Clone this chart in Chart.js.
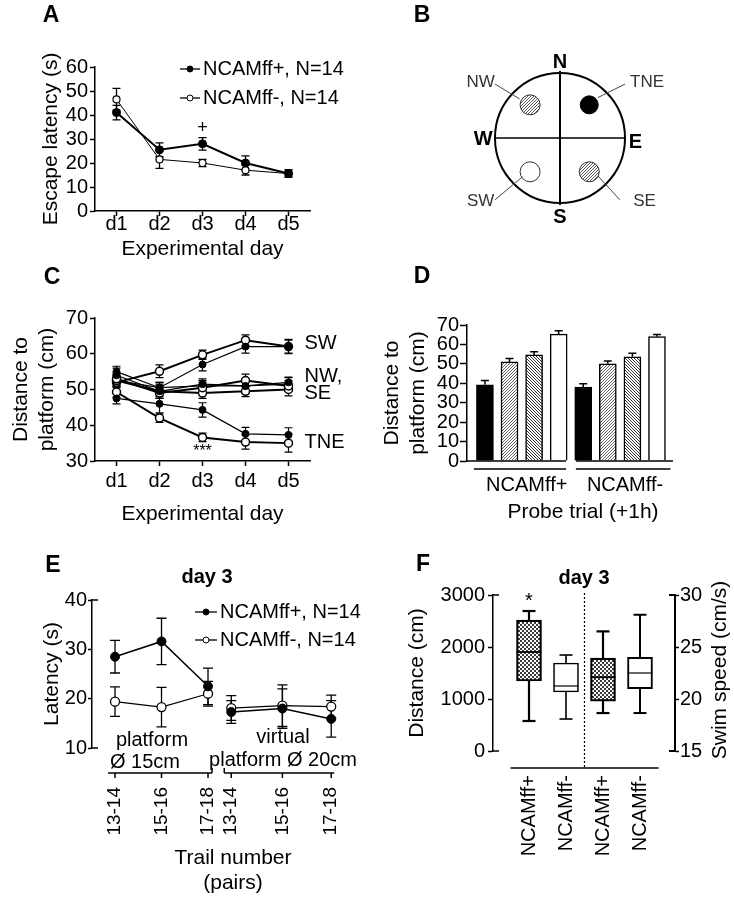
<!DOCTYPE html>
<html><head><meta charset="utf-8">
<script src="https://cdn.jsdelivr.net/npm/chart.js@4.4.1/dist/chart.umd.min.js"></script>
<style>
html,body{margin:0;padding:0;background:#fff;}
#wrap{position:relative;width:734px;height:899px;background:#fff;}
#wrap canvas{position:absolute;left:0;top:0;}
</style></head><body>
<div id="wrap">
<canvas id="cA" width="734" height="899"></canvas>
<canvas id="cB" width="734" height="899"></canvas>
<canvas id="cC" width="734" height="899"></canvas>
<canvas id="cD" width="734" height="899"></canvas>
<canvas id="cE" width="734" height="899"></canvas>
<canvas id="cF" width="734" height="899"></canvas>
</div>
<script>
// ================= DATA =================
// Panel A
const DAYS = ['d1','d2','d3','d4','d5'];
const SERIES_NAMES = ['NCAMff+, N=14','NCAMff-, N=14'];
const A_PLUS = [41.0, 25.5, 28.0, 20.0, 15.6];
const A_PLUS_ERR = [3.0, 2.9, 2.6, 3.0, 1.5];
const A_MINUS = [46.5, 21.5, 20.0, 17.0, 15.6];
const A_MINUS_ERR = [4.6, 3.7, 1.5, 2.0, 1.5];
// Panel B
const B_NAMES = ['NW','TNE','SW','SE'];
const B_X = [-0.46, 0.45, -0.46, 0.45];
const B_Y = [0.51, 0.51, -0.52, -0.52];
// Panel C
const C_TNE_PLUS  = [47.5, 46.0, 44.3, 37.6, 37.3];
const C_TNE_MINUS = [49.3, 42.0, 36.6, 35.3, 35.0];
const C_SW_PLUS   = [52.5, 50.5, 57.0, 62.0, 62.0];
const C_SW_MINUS  = [52.0, 55.1, 59.7, 63.8, 62.0];
const C_NW_PLUS   = [54.0, 49.5, 51.5, 51.0, 52.0];
const C_NW_MINUS  = [53.0, 49.0, 50.5, 52.5, 51.0];
const C_SE_PLUS   = [55.0, 50.5, 51.0, 51.0, 51.5];
const C_SE_MINUS  = [52.5, 49.5, 49.0, 49.5, 50.0];
const C_TNE_PLUS_ERR  = [1.5, 2.5, 2.0, 1.8, 2.0];
const C_TNE_MINUS_ERR = [1.5, 1.2, 1.2, 2.0, 2.5];
const C_SW_PLUS_ERR   = [1.5, 1.5, 1.8, 1.8, 2.0];
const C_SW_MINUS_ERR  = [1.5, 1.8, 1.3, 1.5, 1.8];
const C_NW_PLUS_ERR   = [2.0, 2.0, 1.5, 1.5, 1.5];
const C_NW_MINUS_ERR  = [1.5, 1.5, 1.5, 1.8, 1.5];
const C_SE_PLUS_ERR   = [1.5, 1.5, 1.5, 2.0, 1.8];
const C_SE_MINUS_ERR  = [1.5, 1.5, 1.5, 1.5, 1.8];
const C_LABELS = ['SW','NW,','SE','TNE'];
const C_LABEL_VAL = [63.0, 53.6, 48.9, 35.3];
// Panel D
const D_GROUPS = ['NCAMff+','NCAMff-'];
const D_QUAD = ['TNE','NW','SE','SW','TNE','NW','SE','SW'];
const D_VALUES = [39.2, 51.0, 54.6, 65.3, 38.1, 50.0, 53.6, 64.0];
const D_ERR = [2.2, 1.8, 1.6, 1.8, 1.6, 1.5, 1.8, 1.1];
// Panel E
const E_TRIALS = ['13-14','15-16','17-18','13-14','15-16','17-18'];
const E_SLOT = [1, 2, 3, 3.5, 4.6, 5.65];
const E_PLUS = [28.5, 31.6, 22.5, 17.3, 18.0, 15.9];
const E_PLUS_ERR = [3.3, 4.7, 3.7, 2.3, 4.0, 3.7];
const E_MINUS = [19.4, 18.3, 21.0, 18.1, 18.6, 18.4];
const E_MINUS_ERR = [3.0, 4.0, 2.5, 2.5, 4.2, 2.3];
// Panel F
const F_GROUPS = ['NCAMff+','NCAMff-','NCAMff+','NCAMff-'];
const F_DIST_MIN = [577, 615];
const F_DIST_Q1  = [1346, 1135];
const F_DIST_MED = [1904, 1250];
const F_DIST_Q3  = [2519, 1692];
const F_DIST_MAX = [2692, 1846];
const F_SPEED_MIN = [18.65, 18.65];
const F_SPEED_Q1  = [19.8, 21.0];
const F_SPEED_MED = [22.1, 22.5];
const F_SPEED_Q3  = [23.94, 24.0];
const F_SPEED_MAX = [26.5, 28.1];

// ================= HELPERS =================
const FF = "'Liberation Sans', Arial, Helvetica, sans-serif";
Chart.defaults.font.family = FF;
Chart.defaults.font.size = 20;
Chart.defaults.color = '#000';
Chart.defaults.animation = false;
Chart.defaults.responsive = false;
Chart.defaults.plugins.legend.display = false;
Chart.defaults.plugins.tooltip.enabled = false;

function txt(ctx, s, x, y, o) {
  o = o || {};
  ctx.save();
  ctx.font = o.font || ('20px ' + FF);
  ctx.fillStyle = o.color || '#000';
  ctx.textAlign = o.align || 'center';
  ctx.textBaseline = 'middle';
  ctx.translate(x, y);
  if (o.rot) ctx.rotate(o.rot);
  ctx.fillText(s, 0, 0);
  ctx.restore();
}
function letter(ctx, s, x, y) { txt(ctx, s, x, y, {font: 'bold 23px ' + FF}); }
function line(ctx, x1, y1, x2, y2, w, dash) {
  ctx.save(); ctx.strokeStyle = '#000'; ctx.lineWidth = w || 1.5;
  if (dash) ctx.setLineDash(dash);
  ctx.beginPath(); ctx.moveTo(x1, y1); ctx.lineTo(x2, y2); ctx.stroke(); ctx.restore();
}
function legendRow(ctx, x, y, len, filled, text, r) {
  line(ctx, x, y, x + len, y, 1.3);
  ctx.save(); ctx.beginPath(); ctx.arc(x + len / 2, y, r, 0, Math.PI * 2);
  ctx.fillStyle = filled ? '#000' : '#fff'; ctx.fill();
  ctx.lineWidth = 1; ctx.strokeStyle = '#000'; ctx.stroke(); ctx.restore();
  txt(ctx, text, x + len + 3, y, {align: 'left'});
}
function pts(xs, ys, es) { return ys.map((v, i) => ({x: xs[i], y: v, err: es ? es[i] : null})); }

function tile(w, h, draw) {
  const c = document.createElement('canvas'); c.width = w; c.height = h;
  const g = c.getContext('2d'); draw(g, w, h); return c;
}
function hatchTile(dir, color, step, lw) {
  return tile(step, step, (g, s) => {
    g.fillStyle = '#fff'; g.fillRect(0, 0, s, s);
    g.strokeStyle = color; g.lineWidth = lw; g.beginPath();
    if (dir > 0) {
      for (let k = -1; k <= 1; k++) { g.moveTo(k * s, s); g.lineTo(k * s + s, 0); }
    } else {
      for (let k = -1; k <= 1; k++) { g.moveTo(k * s, 0); g.lineTo(k * s + s, s); }
    }
    g.stroke();
  });
}
const checkerTile = tile(4, 4, (g) => {
  g.fillStyle = '#fff'; g.fillRect(0, 0, 4, 4);
  g.fillStyle = '#3c3c3c'; g.fillRect(0, 0, 2, 2); g.fillRect(2, 2, 2, 2);
});

const errPlugin = {
  id: 'errbars',
  beforeDatasetsDraw(chart) {
    const ctx = chart.ctx;
    chart.data.datasets.forEach((ds, i) => {
      if (!ds.errCap) return;
      const meta = chart.getDatasetMeta(i);
      const ys = chart.scales[meta.yAxisID];
      ctx.save(); ctx.strokeStyle = '#000'; ctx.lineWidth = ds.errWidth || 1.2;
      ds.data.forEach((d, j) => {
        if (d.y == null || d.err == null) return;
        const el = meta.data[j]; const x = el.x; const c = ds.errCap / 2;
        const yHi = ys.getPixelForValue(d.y + d.err);
        const yLo = ds.errUpperOnly ? ys.getPixelForValue(d.y) : ys.getPixelForValue(d.y - d.err);
        ctx.beginPath();
        ctx.moveTo(x, yLo); ctx.lineTo(x, yHi);
        ctx.moveTo(x - c, yHi); ctx.lineTo(x + c, yHi);
        if (!ds.errUpperOnly) { ctx.moveTo(x - c, yLo); ctx.lineTo(x + c, yLo); }
        ctx.stroke();
      });
      ctx.restore();
    });
  }
};

function leftAxis(min, max, step, width, title, tpad, tl, pad) {
  return {
    type: 'linear', position: 'left', min: min, max: max,
    border: {color: '#000', width: 1.5},
    grid: {drawOnChartArea: false, tickColor: '#000', tickWidth: 1.5, tickLength: tl},
    ticks: {stepSize: step, padding: pad, color: '#000', font: {size: 20}, autoSkip: false, callback: v => String(v)},
    title: {display: !!title, text: title, font: {size: 21}, padding: {top: tpad, bottom: 0}, color: '#000'},
    afterFit: s => { s.width = width; }
  };
}

// ================= PANEL A =================
new Chart(document.getElementById('cA'), {
  type: 'line',
  data: {labels: DAYS, datasets: [
    {data: pts(DAYS, A_PLUS, A_PLUS_ERR), borderColor: '#000', borderWidth: 2, pointRadius: 4,
     pointBackgroundColor: '#000', pointBorderColor: '#000', pointBorderWidth: 1, errCap: 8, errWidth: 1.3},
    {data: pts(DAYS, A_MINUS, A_MINUS_ERR), borderColor: '#000', borderWidth: 1, pointRadius: 3.5,
     pointBackgroundColor: '#fff', pointBorderColor: '#000', pointBorderWidth: 1.2, errCap: 8, errWidth: 1.3}
  ]},
  options: {
    layout: {padding: {left: 30, top: 67, right: 424, bottom: 634}},
    scales: {
      x: {type: 'category', offset: true,
          border: {color: '#000', width: 1.5},
          grid: {drawOnChartArea: false, tickColor: '#000', tickWidth: 1.5, tickLength: 5},
          ticks: {padding: -4, font: {size: 20}},
          title: {display: true, text: 'Experimental day', font: {size: 21}, padding: {top: 0, bottom: 3}},
          afterFit: s => { s.height = 54; }},
      y: leftAxis(0, 60, 10, 65, 'Escape latency (s)', 9, 5, 2)
    }
  },
  plugins: [errPlugin, {id: 'annA', afterDraw(chart) {
    const ctx = chart.ctx, ca = chart.chartArea, x = chart.scales.x, y = chart.scales.y;
    letter(ctx, 'A', 51, 16);
    SERIES_NAMES.forEach((n, i) => legendRow(ctx, ca.left + 85, ca.top + 2 + i * 29, 20, i === 0, n, 3));
    txt(ctx, '+', x.getPixelForValue(2), y.getPixelForValue(34.5), {font: '18px ' + FF});
  }}]
});

// ================= PANEL B =================
{
  const ctxB = document.getElementById('cB').getContext('2d');
  const hB = ctxB.createPattern(hatchTile(1, '#444', 3, 0.9), 'repeat');
  const fills = {NW: hB, SE: hB, TNE: '#000', SW: '#fff'};
  new Chart(ctxB, {
    type: 'scatter',
    data: {datasets: [{
      data: B_X.map((v, i) => ({x: v, y: B_Y[i]})),
      pointRadius: B_NAMES.map(n => n === 'TNE' ? 9 : 10),
      pointBackgroundColor: B_NAMES.map(n => fills[n]),
      pointBorderColor: B_NAMES.map(n => n === 'TNE' ? '#000' : '#333'),
      pointBorderWidth: 1
    }]},
    options: {
      layout: {padding: {left: 462.5, right: 76.5, top: 40.5, bottom: 663.5}},
      scales: {x: {display: false, min: -1.5, max: 1.5}, y: {display: false, min: -1.5, max: 1.5}}
    },
    plugins: [{id: 'annB',
      beforeDatasetsDraw(chart) {
        const ctx = chart.ctx, X = chart.scales.x, Y = chart.scales.y;
        const cx = X.getPixelForValue(0), cy = Y.getPixelForValue(0);
        const r = X.getPixelForValue(1) - cx;
        ctx.save(); ctx.strokeStyle = '#000'; ctx.lineWidth = 2;
        ctx.beginPath(); ctx.arc(cx, cy, r, 0, Math.PI * 2); ctx.stroke(); ctx.restore();
        line(ctx, cx - r, cy, cx + r, cy, 1.5);
        line(ctx, cx, cy - r - 2, cx, cy + r + 2, 2);
      },
      afterDraw(chart) {
        const ctx = chart.ctx, X = chart.scales.x, Y = chart.scales.y;
        const P = (a, b) => [X.getPixelForValue(a), Y.getPixelForValue(b)];
        letter(ctx, 'B', 422, 16);
        const bold = 'bold 20px ' + FF;
        let p = P(0, 1.16); txt(ctx, 'N', p[0], p[1], {font: bold});
        p = P(0, -1.23); txt(ctx, 'S', p[0], p[1], {font: bold});
        p = P(-1.18, -0.03); txt(ctx, 'W', p[0], p[1], {font: bold});
        p = P(1.16, -0.07); txt(ctx, 'E', p[0], p[1], {font: bold});
        const small = '17px ' + FF, g = '#333';
        const lab = [['NW', -1.22, 0.86, -1.0, 0.83, -0.62, 0.6],
                     ['TNE', 1.34, 0.86, 1.0, 0.83, 0.58, 0.62],
                     ['SW', -1.22, -0.98, -1.0, -0.95, -0.58, -0.6],
                     ['SE', 1.3, -0.98, 0.92, -0.95, 0.58, -0.58]];
        lab.forEach(l => {
          const a = P(l[1], l[2]); txt(ctx, l[0], a[0], a[1], {font: small, color: g});
          const s = P(l[3], l[4]), e = P(l[5], l[6]);
          ctx.save(); ctx.strokeStyle = '#444'; ctx.lineWidth = 1;
          ctx.beginPath(); ctx.moveTo(s[0], s[1]); ctx.lineTo(e[0], e[1]); ctx.stroke(); ctx.restore();
        });
      }}]
  });
}

// ================= PANEL C =================
{
  const plus = (vals, errs) => ({data: pts(DAYS, vals, errs), borderColor: '#000', borderWidth: 1.2,
    pointRadius: 3.5, pointBackgroundColor: '#000', pointBorderColor: '#000', pointBorderWidth: 1, errCap: 8, errWidth: 1.2});
  const minus = (vals, errs) => ({data: pts(DAYS, vals, errs), borderColor: '#000', borderWidth: 2,
    pointRadius: 4, pointBackgroundColor: '#fff', pointBorderColor: '#000', pointBorderWidth: 1.5, errCap: 8, errWidth: 1.2});
  new Chart(document.getElementById('cC'), {
    type: 'line',
    data: {labels: DAYS, datasets: [
      plus(C_NW_PLUS, C_NW_PLUS_ERR), minus(C_NW_MINUS, C_NW_MINUS_ERR),
      plus(C_SE_PLUS, C_SE_PLUS_ERR), minus(C_SE_MINUS, C_SE_MINUS_ERR),
      plus(C_SW_PLUS, C_SW_PLUS_ERR), minus(C_SW_MINUS, C_SW_MINUS_ERR),
      plus(C_TNE_PLUS, C_TNE_PLUS_ERR), minus(C_TNE_MINUS, C_TNE_MINUS_ERR)
    ]},
    options: {
      layout: {padding: {left: 0, top: 318, right: 424, bottom: 372}},
      scales: {
        x: {type: 'category', offset: true,
            border: {color: '#000', width: 1.5},
            grid: {drawOnChartArea: false, tickColor: '#000', tickWidth: 1.5, tickLength: 5},
            ticks: {padding: 3, font: {size: 20}},
            title: {display: true, text: 'Experimental day', font: {size: 21}, padding: {top: 0, bottom: 0}},
            afterFit: s => { s.height = 66; }},
        y: leftAxis(30, 70, 10, 95, ['Distance to', 'platform (cm)'], 9, 5, 2)
      }
    },
    plugins: [errPlugin, {id: 'annC', afterDraw(chart) {
      const ctx = chart.ctx, x = chart.scales.x, y = chart.scales.y;
      letter(ctx, 'C', 52, 278);
      const lx = x.getPixelForValue(4) + 16;
      C_LABELS.forEach((s, i) => txt(ctx, s, lx, y.getPixelForValue(C_LABEL_VAL[i]), {align: 'left'}));
      txt(ctx, '***', x.getPixelForValue(2), y.getPixelForValue(32.6), {font: '16px ' + FF});
    }}]
  });
}

// ================= PANEL D =================
{
  const ctxD = document.getElementById('cD').getContext('2d');
  const fillMap = {
    TNE: '#000',
    NW: ctxD.createPattern(hatchTile(1, '#555', 3, 0.9), 'repeat'),
    SE: ctxD.createPattern(hatchTile(-1, '#333', 3, 1.0), 'repeat'),
    SW: '#fff'
  };
  new Chart(ctxD, {
    type: 'bar',
    data: {datasets: [{
      data: D_VALUES.map((v, i) => ({x: i + 1, y: v, err: D_ERR[i]})),
      backgroundColor: D_QUAD.map(q => fillMap[q]),
      borderColor: '#000', borderWidth: 1.5, barThickness: 17, grouped: false,
      errCap: 8, errWidth: 1.5, errUpperOnly: true
    }]},
    options: {
      layout: {padding: {left: 380, top: 325, right: 35, bottom: 373}},
      scales: {
        x: {type: 'linear', offset: false, min: 0.27, max: 9.71,
            border: {display: false}, grid: {display: false, drawTicks: false},
            afterBuildTicks: s => { s.ticks = [{value: 2.7}, {value: 6.7}]; },
            ticks: {callback: (v, i) => D_GROUPS[i], padding: 12, autoSkip: false, maxRotation: 0, font: {size: 20}},
            title: {display: true, text: 'Probe trial (+1h)', font: {size: 21}, padding: {top: 0, bottom: 1}},
            afterFit: s => { s.height = 65; }},
        y: leftAxis(0, 70, 10, 87, ['Distance to', 'platform (cm)'], 0, 7, 1)
      }
    },
    plugins: [errPlugin, {id: 'annD', afterDraw(chart) {
      const ctx = chart.ctx, ca = chart.chartArea, x = chart.scales.x;
      letter(ctx, 'D', 422, 277);
      line(ctx, ca.left, ca.bottom, x.getPixelForValue(4.3), ca.bottom, 1.5);
      line(ctx, x.getPixelForValue(4.7), ca.bottom, x.getPixelForValue(8.65), ca.bottom, 1.5);
      line(ctx, x.getPixelForValue(0.55), ca.bottom + 8, x.getPixelForValue(4.3), ca.bottom + 8, 1.5);
      line(ctx, x.getPixelForValue(4.7), ca.bottom + 8, x.getPixelForValue(8.55), ca.bottom + 8, 1.5);
    }}]
  });
}

// ================= PANEL E =================
{
  const withGap = (vals, errs) => {
    const a = pts(E_SLOT, vals, errs);
    a.splice(3, 0, {x: (E_SLOT[2] + E_SLOT[3]) / 2, y: null, err: null});
    return a;
  };
  new Chart(document.getElementById('cE'), {
    type: 'line',
    data: {datasets: [
      {data: withGap(E_PLUS, E_PLUS_ERR), borderColor: '#000', borderWidth: 1.5, pointRadius: 4.5,
       pointBackgroundColor: '#000', pointBorderColor: '#000', pointBorderWidth: 1, errCap: 10, errWidth: 1.3},
      {data: withGap(E_MINUS, E_MINUS_ERR), borderColor: '#000', borderWidth: 1.2, pointRadius: 4.5,
       pointBackgroundColor: '#fff', pointBorderColor: '#000', pointBorderWidth: 1.3, errCap: 10, errWidth: 1.3}
    ]},
    options: {
      layout: {padding: {left: 40, top: 565, right: 360, bottom: 0}},
      plugins: {title: {display: true, text: 'day 3', font: {size: 20, weight: 'bold'}, padding: {top: 0, bottom: 11}, fullSize: true, color: '#000'}},
      scales: {
        x: {type: 'linear', offset: false, min: 0.505, max: 6.57,
            border: {display: false}, grid: {display: false, drawTicks: false},
            afterBuildTicks: s => { s.ticks = E_SLOT.map(v => ({value: v})); },
            ticks: {callback: (v, i) => E_TRIALS[i], padding: 39, autoSkip: false, minRotation: 90, maxRotation: 90, font: {size: 19}},
            title: {display: true, text: ['Trail number', '(pairs)'], font: {size: 21}, padding: {top: 0, bottom: 3}},
            afterFit: s => { s.height = 151; }},
        y: leftAxis(10, 40, 10, 52, 'Latency (s)', 0, 4, 1)
      }
    },
    plugins: [errPlugin, {id: 'annE', afterDraw(chart) {
      const ctx = chart.ctx, ca = chart.chartArea, x = chart.scales.x;
      letter(ctx, 'E', 53, 566);
      line(ctx, ca.left, ca.top, ca.left + 6, ca.top, 1.5);
      line(ctx, ca.left, ca.bottom, ca.left + 6, ca.bottom, 1.5);
      SERIES_NAMES.forEach((n, i) => legendRow(ctx, ca.left + 103, ca.top + 12 + i * 28, 22, i === 0, n, 3));
      txt(ctx, 'platform', ca.left + 60, ca.bottom - 8);
      txt(ctx, 'Ø 15cm', ca.left + 53, ca.bottom + 14);
      txt(ctx, 'virtual', ca.left + 191, ca.bottom - 11);
      txt(ctx, 'platform Ø 20cm', ca.left + 191, ca.bottom + 12);
      const yb = ca.bottom + 25;
      const px = E_SLOT.map(v => x.getPixelForValue(v));
      line(ctx, px[0] - 7, yb, px[2] + 4, yb, 1.5);
      line(ctx, px[3] - 7, yb, px[5] + 3, yb, 1.5);
      line(ctx, px[2] + 4, yb, px[2] + 4, yb - 5, 1.5);
      line(ctx, px[3] - 7, yb, px[3] - 7, yb - 5, 1.5);
      px.forEach(p => line(ctx, p, yb, p, yb + 5, 1.5));
    }}]
  });
}

// ================= PANEL F =================
{
  const ctxF = document.getElementById('cF').getContext('2d');
  const chk = ctxF.createPattern(checkerTile, 'repeat');
  const boxFill = F_GROUPS.map(g => g === 'NCAMff+' ? chk : '#fff');
  new Chart(ctxF, {
    type: 'bar',
    data: {datasets: [
      {data: F_DIST_Q1.map((q, i) => ({x: i + 1, y: [q, F_DIST_Q3[i]]})), yAxisID: 'y',
       backgroundColor: boxFill.slice(0, 2), borderColor: '#000', borderWidth: [2.2, 1.6],
       borderSkipped: false, barThickness: 25, grouped: false,
       bx: {min: F_DIST_MIN, med: F_DIST_MED, max: F_DIST_MAX}},
      {data: F_SPEED_Q1.map((q, i) => ({x: i + 3, y: [q, F_SPEED_Q3[i]]})), yAxisID: 'y2',
       backgroundColor: boxFill.slice(2, 4), borderColor: '#000', borderWidth: [2.2, 2],
       borderSkipped: false, barThickness: 25, grouped: false,
       bx: {min: F_SPEED_MIN, med: F_SPEED_MED, max: F_SPEED_MAX}}
    ]},
    options: {
      layout: {padding: {left: 405, top: 566, right: 14, bottom: 0}},
      plugins: {title: {display: true, text: 'day 3', font: {size: 20, weight: 'bold'}, padding: {top: 0, bottom: 5}, fullSize: false, color: '#000'}},
      scales: {
        x: {type: 'linear', offset: false, min: 0.027, max: 4.946,
            border: {display: false}, grid: {display: false, drawTicks: false},
            afterBuildTicks: s => { s.ticks = F_GROUPS.map((g, i) => ({value: i + 1})); },
            ticks: {callback: (v, i) => F_GROUPS[i], padding: 24, autoSkip: false, minRotation: 90, maxRotation: 90, font: {size: 20}},
            afterFit: s => { s.height = 148; }},
        y: leftAxis(0, 3000, 1000, 88, 'Distance (cm)', 0, 5, 3),
        y2: {type: 'linear', position: 'right', min: 15, max: 30,
             border: {color: '#000', width: 2},
             grid: {drawOnChartArea: false, tickColor: '#000', tickWidth: 1.5, tickLength: 4},
             ticks: {stepSize: 5, padding: 1, font: {size: 20}, autoSkip: false},
             afterFit: s => { s.width = 45; }}
      }
    },
    plugins: [{id: 'annF', afterDatasetsDraw(chart) {
      const ctx = chart.ctx;
      chart.data.datasets.forEach((ds, di) => {
        const meta = chart.getDatasetMeta(di), ys = chart.scales[meta.yAxisID];
        meta.data.forEach((el, i) => {
          const cx = el.x, hw = 12.5, cap = 6.5;
          const w = ds.borderWidth[i];
          const yMin = ys.getPixelForValue(ds.bx.min[i]), yMax = ys.getPixelForValue(ds.bx.max[i]);
          const yQ1 = ys.getPixelForValue(ds.data[i].y[0]), yQ3 = ys.getPixelForValue(ds.data[i].y[1]);
          const yMed = ys.getPixelForValue(ds.bx.med[i]);
          line(ctx, cx, yQ3, cx, yMax, w); line(ctx, cx - cap, yMax, cx + cap, yMax, w);
          line(ctx, cx, yQ1, cx, yMin, w); line(ctx, cx - cap, yMin, cx + cap, yMin, w);
          line(ctx, cx - hw, yMed, cx + hw, yMed, w > 2 ? 1.8 : 1.2);
        });
      });
    }, afterDraw(chart) {
      const ctx = chart.ctx, ca = chart.chartArea, x = chart.scales.x, y = chart.scales.y;
      letter(ctx, 'F', 423, 565);
      line(ctx, ca.left, ca.top, ca.left + 6, ca.top, 1.5);
      line(ctx, ca.left, ca.bottom, ca.left + 6, ca.bottom, 1.5);
      line(ctx, ca.right, ca.top, ca.right - 6, ca.top, 2);
      line(ctx, ca.right, ca.bottom, ca.right - 6, ca.bottom, 2);
      const yb = ca.bottom + 17;
      line(ctx, x.getPixelForValue(0.5), yb, x.getPixelForValue(4.5), yb, 1.5);
      line(ctx, x.getPixelForValue(2.5), ca.top - 2, x.getPixelForValue(2.5), yb, 1.2, [2, 2]);
      txt(ctx, '*', x.getPixelForValue(1), y.getPixelForValue(2880), {font: '20px ' + FF});
      txt(ctx, 'Swim speed (cm/s)', ca.right + 45, 670, {font: '21px ' + FF, rot: -Math.PI / 2});
    }}]
  });
}
</script>
</body></html>
